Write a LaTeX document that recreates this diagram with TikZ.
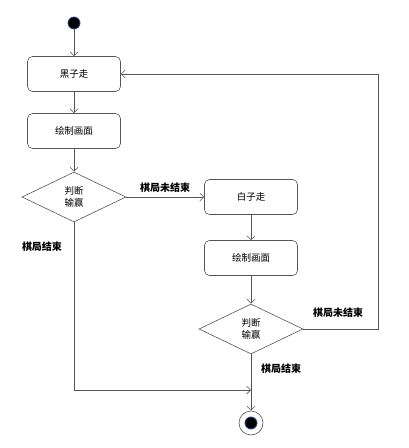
\documentclass[tikz,border=0pt]{standalone}
\usepackage{fontspec}
\setmainfont{Noto Sans CJK SC}
\usepackage{tikz}
\usetikzlibrary{arrows.meta,shapes.geometric}
\definecolor{linegray}{RGB}{85,85,85}
\definecolor{rimblue}{RGB}{40,70,140}

\begin{document}
\begin{tikzpicture}[x=1pt,y=-1pt,
    >={Straight Barb[length=4pt,width=8pt]},
    line/.style={draw=linegray,semithick},
    act/.style={draw=linegray,semithick,rounded corners=5pt,minimum width=93pt,minimum height=35pt,font=\fontsize{9.5}{11}\selectfont},
    judge/.style={draw=linegray,semithick,diamond,aspect=2,inner sep=0pt,minimum width=104pt,minimum height=50pt,align=center,font=\fontsize{9.5}{12}\selectfont},
    guard/.style={font=\fontsize{10}{12}\selectfont\bfseries}]
    \useasboundingbox (0,0) rectangle (409,448);
    % start and end
    \node[circle,fill=black,draw=rimblue,thick,minimum size=12pt,inner sep=0pt] (start) at (74,23) {};
    \node[circle,draw=linegray,semithick,fill=white,minimum size=24pt,inner sep=0pt] (stop) at (251,423) {};
    \fill[black,draw=rimblue,thick] (stop) circle (6pt);
    % black side
    \node[act] (black) at (74,74) {黑子走};
    \node[act] (drawb) at (74,131) {绘制画面};
    \node[judge] (checkb) at (74,197) {判断\\输赢};
    % white side
    \node[act] (white) at (251,197) {白子走};
    \node[act] (draww) at (251,258) {绘制画面};
    \node[judge] (checkw) at (251,329) {判断\\输赢};
    \coordinate (back) at (378,74);
    \coordinate (merge) at (251,390);
    % flow
    \draw[line,->](start)--(black);
    \draw[line,->](black)--(drawb);
    \draw[line,->](drawb)--(checkb);
    \draw[line,->](checkb)--(white);
    \draw[line,->](white)--(draww);
    \draw[line,->](draww)--(checkw);
    \draw[line,->](checkw.east)-|(back)--(black.east);
    \draw[line,->](checkb.south)|-(merge);
    \draw[line,->](checkw.south)--(stop);
    % guards
    \node[guard] (g1) at (165,188) {棋局未结束};
    \node[guard] (g2) at (338,313) {棋局未结束};
    \node[guard] (g3) at (42,247) {棋局结束};
    \node[guard] (g4) at (281,369) {棋局结束};
  \end{tikzpicture}
\end{document}
